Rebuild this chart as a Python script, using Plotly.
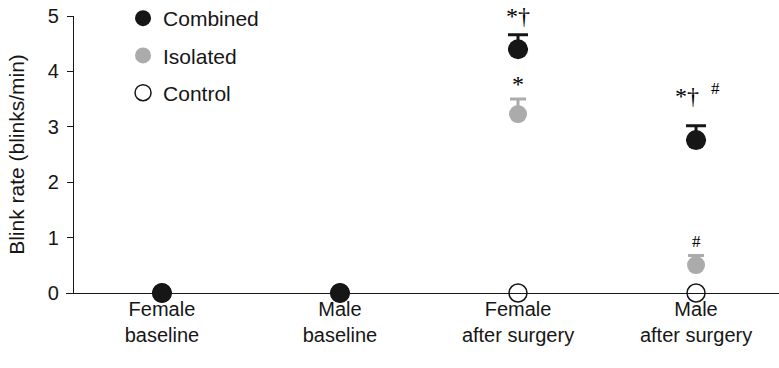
import plotly.graph_objects as go

categories = ["Female<br>baseline", "Male<br>baseline", "Female<br>after surgery", "Male<br>after surgery"]
xpos = [0, 1, 2, 3]
combined = [0, 0, 4.40, 2.76]
combined_err = [0, 0, 0.26, 0.26]
isolated = [0, 0, 3.23, 0.505]
isolated_err = [0, 0, 0.27, 0.17]
control = [0, 0, 0, 0]
control_err_minus = [0.16, 0.16, 0.16, 0.16]

BLACK = "#161616"
GREY = "#ababab"
FONT = "Liberation Sans, Arial, sans-serif"
FS = 20

fig = go.Figure()

fig.add_trace(go.Scatter(
    x=xpos, y=control, mode="markers", name="Control",
    legendgroup="c", legendrank=3,
    marker=dict(size=18, color="white", line=dict(color=BLACK, width=1.5)),
    cliponaxis=False,
))
fig.add_trace(go.Scatter(
    x=xpos, y=control, mode="markers", showlegend=False, hoverinfo="skip",
    marker=dict(size=1, color="rgba(0,0,0,0)"),
    error_y=dict(type="data", symmetric=False, array=[0, 0, 0, 0],
                 arrayminus=control_err_minus, width=0, thickness=1.2, color=BLACK),
    cliponaxis=False,
))
fig.add_trace(go.Scatter(
    x=xpos, y=isolated, mode="markers", name="Isolated",
    legendgroup="b", legendrank=2,
    marker=dict(size=18, color=GREY),
    error_y=dict(type="data", symmetric=False, array=isolated_err,
                 arrayminus=[0, 0, 0, 0], width=8, thickness=3, color=GREY),
    cliponaxis=False,
))
fig.add_trace(go.Scatter(
    x=xpos, y=combined, mode="markers", name="Combined",
    legendgroup="a", legendrank=1,
    marker=dict(size=20, color=BLACK),
    error_y=dict(type="data", symmetric=False, array=combined_err,
                 arrayminus=[0, 0, 0, 0], width=10, thickness=3, color=BLACK),
    cliponaxis=False,
))

# significance annotations
SERIF = "Liberation Serif, Times New Roman, serif"
ann_font = dict(family=SERIF, size=24, color="black")
hash_font = dict(family=SERIF, size=17, color="black")
fig.add_annotation(x=2, y=combined[2] + combined_err[2], text="*†", showarrow=False,
                   yanchor="bottom", yshift=4, font=ann_font)
fig.add_annotation(x=2, y=isolated[2] + isolated_err[2], text="*", showarrow=False,
                   yanchor="bottom", yshift=0, font=ann_font)
fig.add_annotation(x=3, y=combined[3] + combined_err[3], text="*†", showarrow=False,
                   yanchor="bottom", yshift=15, xshift=-9, font=ann_font)
fig.add_annotation(x=3, y=combined[3] + combined_err[3], text="#", showarrow=False,
                   yanchor="bottom", yshift=26, xshift=19, font=hash_font)
fig.add_annotation(x=3, y=isolated[3] + isolated_err[3], text="#", showarrow=False,
                   yanchor="bottom", yshift=3, font=hash_font)

fig.update_layout(
    width=779, height=368,
    margin=dict(l=66, r=0, t=16, b=75, autoexpand=False),
    paper_bgcolor="white", plot_bgcolor="white",
    font=dict(family=FONT, size=FS, color=BLACK),
    showlegend=True,
    legend=dict(x=0.08, y=1.065, xref="paper", yref="paper",
                xanchor="left", yanchor="top",
                traceorder="grouped", tracegroupgap=7,
                font=dict(family=FONT, size=21, color=BLACK),
                bgcolor="rgba(0,0,0,0)"),
    xaxis=dict(
        range=[-0.539, 3.466], tickmode="array", tickvals=xpos, ticktext=categories,
        showline=True, linecolor=BLACK, linewidth=1.2, ticks="", showgrid=False,
        zeroline=False, tickfont=dict(family=FONT, size=FS, color=BLACK),
        automargin=False, ticklabelstandoff=-2,
    ),
    yaxis=dict(
        range=[0, 5], tickvals=[0, 1, 2, 3, 4, 5], anchor="free", position=0.0098,
        showline=True, linecolor=BLACK, linewidth=1.2, ticks="outside", ticklen=6,
        tickcolor=BLACK, showgrid=False, zeroline=False, automargin=False,
        ticklabelstandoff=4,
        tickfont=dict(family=FONT, size=FS, color=BLACK),
        title=dict(text="Blink rate (blinks/min)", standoff=16,
                   font=dict(family=FONT, size=21, color=BLACK)),
    ),
)

fig.write_html("out.html", config={"displayModeBar": False},
               post_script="document.body.style.margin='0';")
